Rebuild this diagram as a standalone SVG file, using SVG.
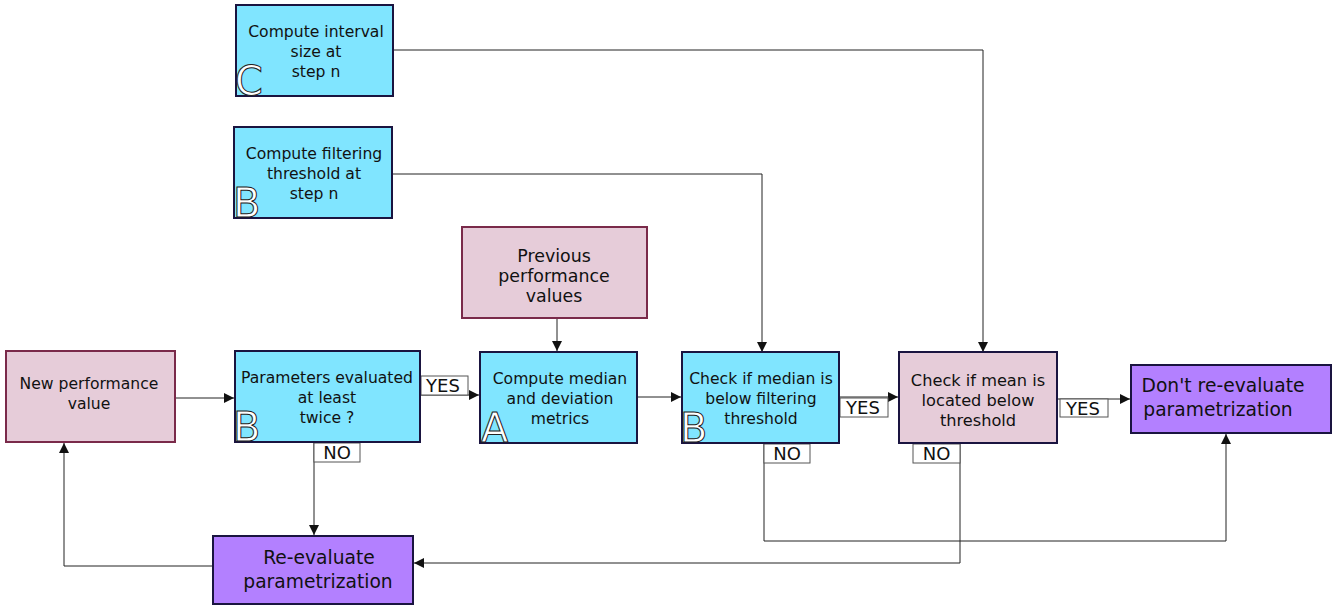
<svg xmlns="http://www.w3.org/2000/svg" width="1339" height="607" viewBox="0 0 1339 607">
  <defs>
    <marker id="arrow" viewBox="0 0 10 10" refX="10" refY="5" markerWidth="10" markerHeight="10" markerUnits="userSpaceOnUse" orient="auto">
      <path d="M0,0 L10,5 L0,10 z" fill="#111"/>
    </marker>
    <style>
      .blue { fill: #80e5ff; stroke: #1a1440; stroke-width: 2; }
      .pink { fill: #e6ccd9; stroke: #7a2a4a; stroke-width: 2; }
      .mauve { fill: #e6ccd9; stroke: #1a1440; stroke-width: 2; }
      .purple { fill: #b380ff; stroke: #1a1440; stroke-width: 2; }
      .t { font-family: "DejaVu Sans", Verdana, sans-serif; font-size: 15.6px; fill: #111; text-anchor: middle; }
      .tl { font-family: "DejaVu Sans", Verdana, sans-serif; font-size: 17.4px; fill: #111; text-anchor: middle; }
      .tb { font-family: "DejaVu Sans", Verdana, sans-serif; font-size: 18.7px; fill: #111; text-anchor: middle; }
      .big { font-family: "DejaVu Sans", Verdana, sans-serif; font-size: 40px; fill: #fff; stroke: #222; stroke-width: 1; }
      .lbl { fill: #fff; stroke: #555; stroke-width: 1; }
      .lt { font-family: "DejaVu Sans", Verdana, sans-serif; font-size: 18px; fill: #111; text-anchor: middle; }
      .edge { fill: none; stroke: #222; stroke-width: 1; }
    </style>
  </defs>
  <rect width="1339" height="607" fill="#fff"/>

  <!-- connectors -->
  <g id="connectors">
    <polyline class="edge" points="393,50 983,50 983,352" marker-end="url(#arrow)"/>
    <polyline class="edge" points="392,174 762,174 762,352" marker-end="url(#arrow)"/>
    <line class="edge" x1="557" y1="318" x2="557" y2="351" marker-end="url(#arrow)"/>
    <line class="edge" x1="175" y1="398" x2="234" y2="398" marker-end="url(#arrow)"/>
    <line class="edge" x1="420" y1="395" x2="479" y2="395" marker-end="url(#arrow)"/>
    <line class="edge" x1="637" y1="397" x2="681" y2="397" marker-end="url(#arrow)"/>
    <line class="edge" x1="839" y1="397" x2="898" y2="397" marker-end="url(#arrow)"/>
    <line class="edge" x1="1057" y1="399" x2="1130" y2="399" marker-end="url(#arrow)"/>
    <line class="edge" x1="314" y1="443" x2="314" y2="535" marker-end="url(#arrow)"/>
    <polyline class="edge" points="764,443 764,541 1226,541 1226,434" marker-end="url(#arrow)"/>
    <polyline class="edge" points="960,443 960,563 414,563" marker-end="url(#arrow)"/>
    <polyline class="edge" points="212,566 64,566 64,443" marker-end="url(#arrow)"/>

    <g id="edge-labels">
      <rect class="lbl" x="421" y="376" width="47" height="19"/>
      <text class="lt" x="443" y="392">YES</text>
      <rect class="lbl" x="840" y="398" width="48" height="19"/>
      <text class="lt" x="863" y="414">YES</text>
      <rect class="lbl" x="1060" y="399" width="48" height="18"/>
      <text class="lt" x="1083" y="414.5">YES</text>
      <rect class="lbl" x="314" y="443" width="46" height="19"/>
      <text class="lt" x="337" y="459">NO</text>
      <rect class="lbl" x="764" y="444" width="46" height="19"/>
      <text class="lt" x="787" y="460">NO</text>
      <rect class="lbl" x="913" y="444" width="47" height="19"/>
      <text class="lt" x="936.5" y="460">NO</text>
    </g>
  </g>

  <g id="interval">
    <rect class="blue" x="236" y="5" width="157" height="91"/>
    <text class="t" x="316" y="37">Compute interval</text>
    <text class="t" x="316" y="57">size at</text>
    <text class="t" x="316" y="77">step n</text>
    <text class="big" x="235" y="95">C</text>
  </g>

  <g id="filtering">
    <rect class="blue" x="234" y="127" width="158" height="91"/>
    <text class="t" x="314" y="159">Compute filtering</text>
    <text class="t" x="314" y="179">threshold at</text>
    <text class="t" x="314" y="199">step n</text>
    <text class="big" x="233" y="217">B</text>
  </g>

  <g id="previous">
    <rect class="pink" x="462" y="227" width="185" height="91"/>
    <text class="tl" x="554" y="262">Previous</text>
    <text class="tl" x="554" y="282">performance</text>
    <text class="tl" x="554" y="302">values</text>
  </g>

  <g id="new-value">
    <rect class="pink" x="6" y="351" width="169" height="91"/>
    <text class="t" x="89" y="389">New performance</text>
    <text class="t" x="89" y="409">value</text>
  </g>

  <g id="evaluated-twice">
    <rect class="blue" x="235" y="351" width="185" height="91"/>
    <text class="t" x="327" y="383">Parameters evaluated</text>
    <text class="t" x="327" y="403">at least</text>
    <text class="t" x="327" y="423">twice ?</text>
    <text class="big" x="233" y="441">B</text>
  </g>

  <g id="median">
    <rect class="blue" x="480" y="352" width="157" height="91"/>
    <text class="t" x="560" y="384">Compute median</text>
    <text class="t" x="560" y="404">and deviation</text>
    <text class="t" x="560" y="424">metrics</text>
    <text class="big" x="481" y="442">A</text>
  </g>

  <g id="check-median">
    <rect class="blue" x="682" y="352" width="157" height="91"/>
    <text class="t" x="761" y="384">Check if median is</text>
    <text class="t" x="761" y="404">below filtering</text>
    <text class="t" x="761" y="424">threshold</text>
    <text class="big" x="680" y="442">B</text>
  </g>

  <g id="check-mean">
    <rect class="mauve" x="899" y="352" width="158" height="91"/>
    <text class="t" x="978" y="386" style="font-size:16.2px">Check if mean is</text>
    <text class="t" x="978" y="406" style="font-size:16.2px">located below</text>
    <text class="t" x="978" y="426" style="font-size:16.2px">threshold</text>
  </g>

  <g id="keep">
    <rect class="purple" x="1131" y="365" width="200" height="68"/>
    <text class="tb" x="1223" y="392">Don't re-evaluate</text>
    <text class="tb" x="1218" y="416">parametrization</text>
  </g>

  <g id="reevaluate">
    <rect class="purple" x="213" y="536" width="200" height="68"/>
    <text class="tb" x="319" y="564">Re-evaluate</text>
    <text class="tb" x="318" y="588">parametrization</text>
  </g>
</svg>
